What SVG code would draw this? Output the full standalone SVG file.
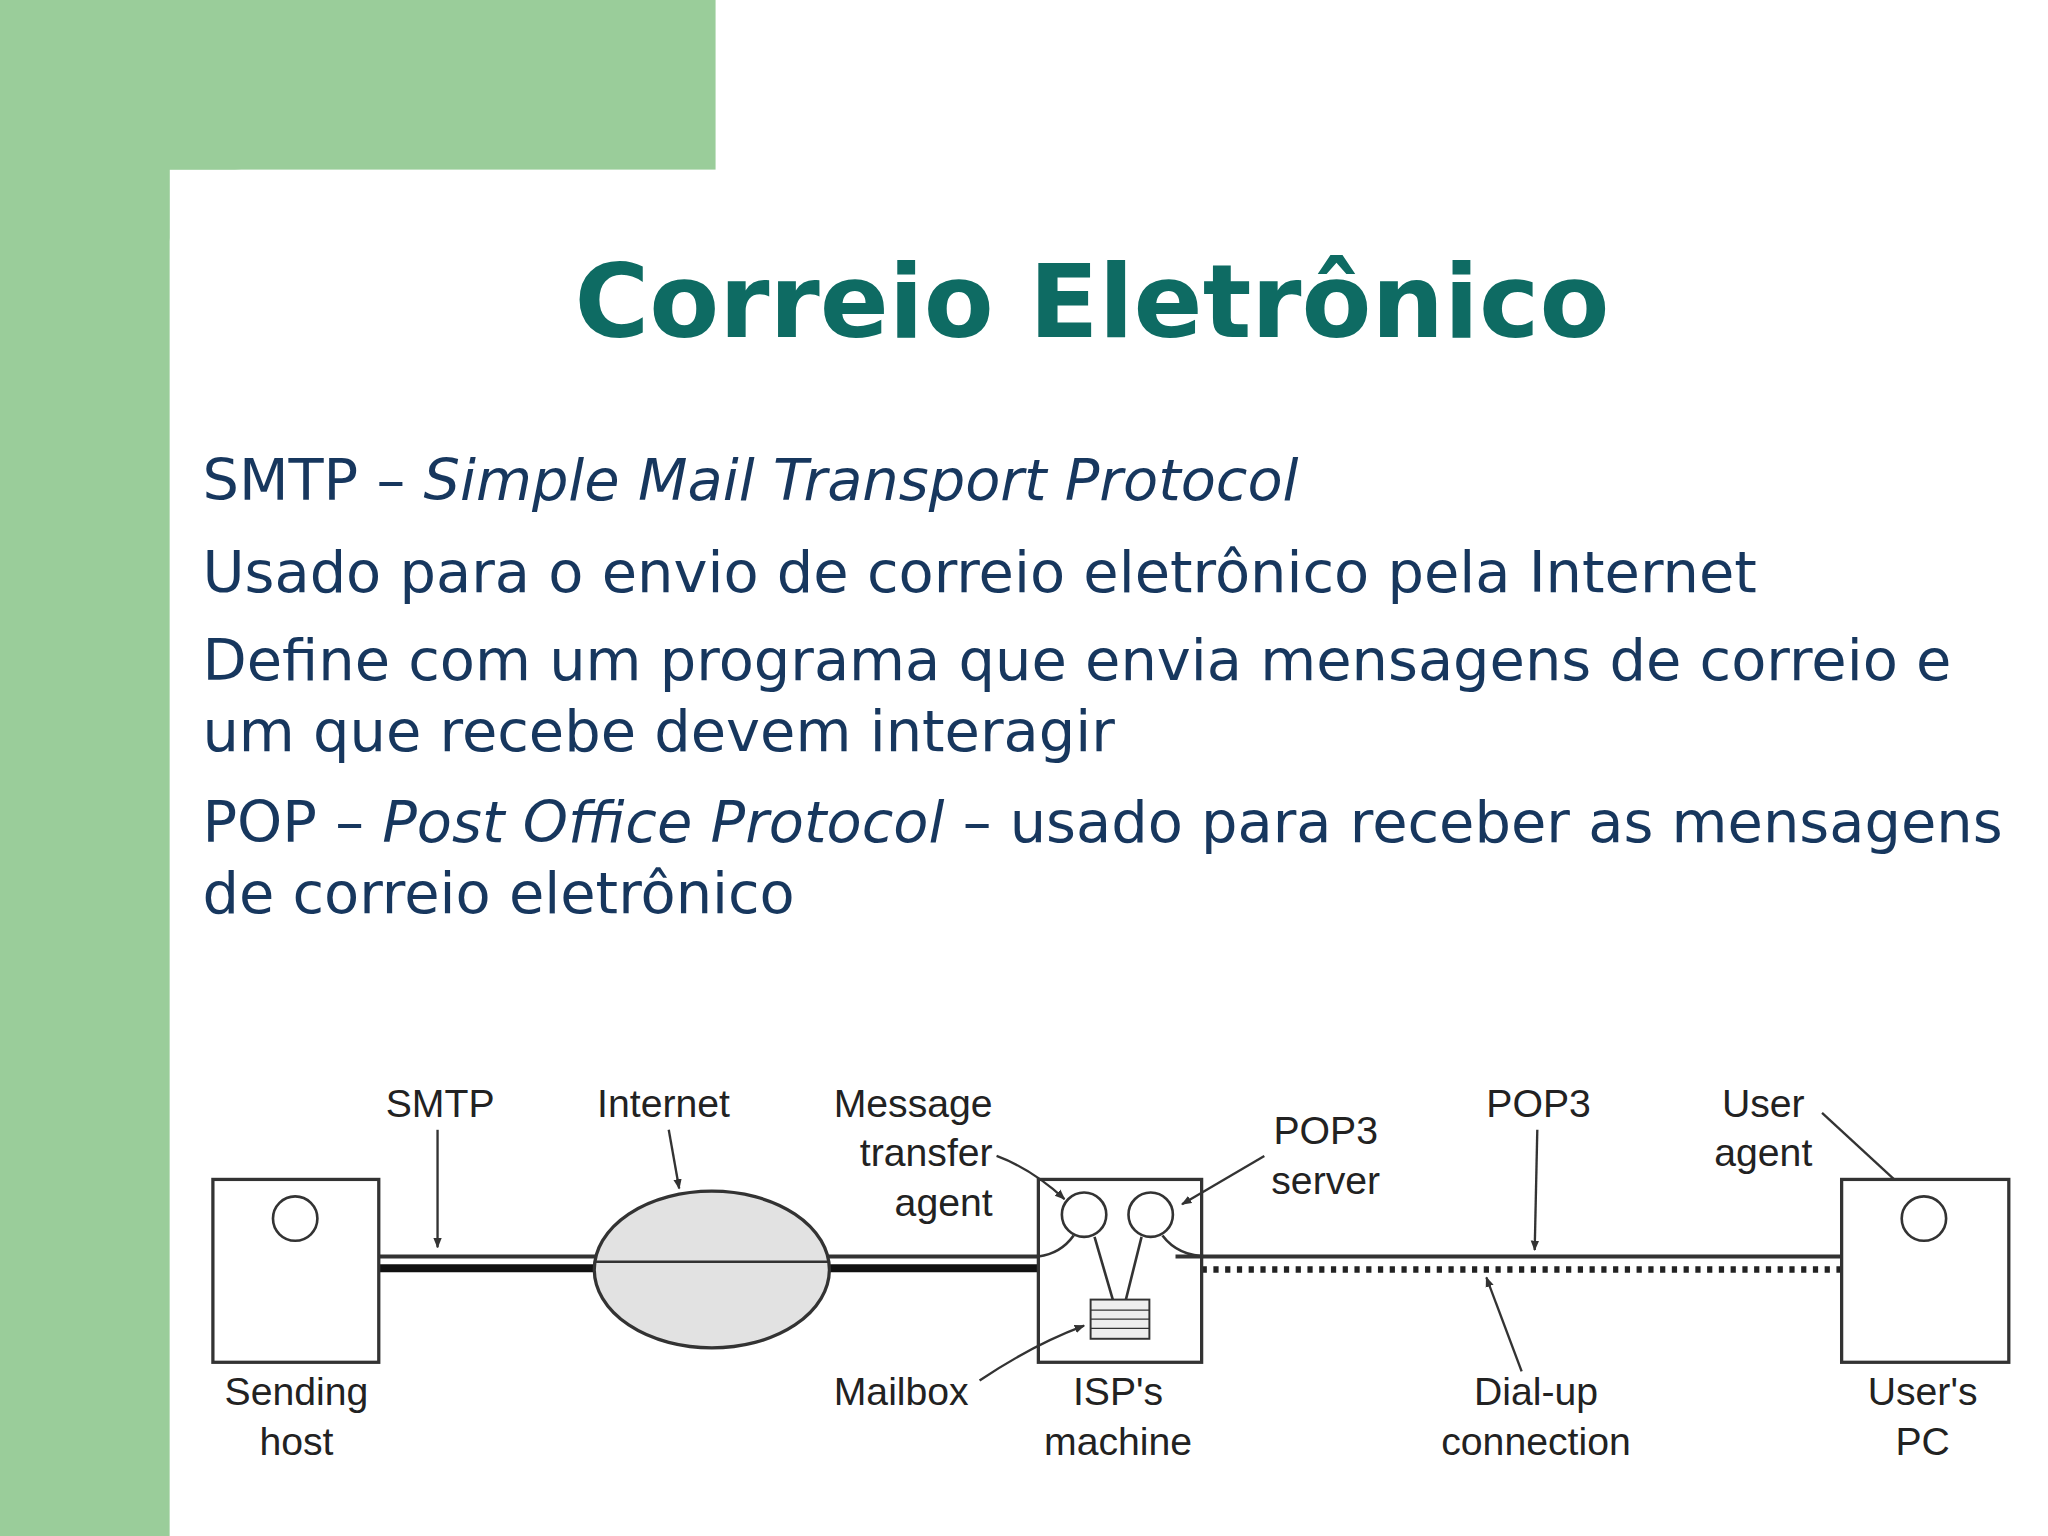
<svg xmlns="http://www.w3.org/2000/svg" width="2048" height="1536" viewBox="0 0 2048 1536">
<defs>
<style>
.body{font-family:"DejaVu Sans",sans-serif;font-size:44px;fill:#17375e}
.lbl{font-family:"Liberation Sans Narrow","Liberation Sans",sans-serif;font-size:30px;fill:#222;text-anchor:middle;font-stretch:condensed}
.box{fill:#fff;stroke:#333;stroke-width:2.5}
.ln{fill:none;stroke:#333;stroke-width:2}
.ar{fill:none;stroke:#333;stroke-width:1.8;marker-end:url(#ah)}
</style>
<marker id="ah" viewBox="0 0 10 10" refX="9" refY="5" markerWidth="8" markerHeight="8" orient="auto-start-reverse" markerUnits="userSpaceOnUse"><path d="M0,1 L10,5 L0,9 z" fill="#333"/></marker>
</defs>
<rect width="2048" height="1536" fill="#fff"/>
<g transform="scale(1.30612)">
<g id="background">
<rect x="0" y="0" width="548" height="130" fill="#9acd9a"/>
<rect x="0" y="0" width="130" height="1176" fill="#9acd9a"/>
<path d="M130,1176 L130,185 A55,55 0 0 1 185,130 L548,130 L548,0 L1568,0 L1568,1176 Z" fill="#fff"/>
</g>
<text x="836" y="258" text-anchor="middle" font-family="DejaVu Sans,sans-serif" font-weight="bold" font-size="78" fill="#0e6b63">Correio Eletrônico</text>
<g id="bullets">
<text class="body" x="155" y="383">SMTP – <tspan font-style="italic">Simple Mail Transport Protocol</tspan></text>
<text class="body" x="155" y="453">Usado para o envio de correio eletrônico pela Internet</text>
<text class="body" x="155" y="521">Define com um programa que envia mensagens de correio e</text>
<text class="body" x="155" y="575">um que recebe devem interagir</text>
<text class="body" x="155" y="645">POP – <tspan font-style="italic">Post Office Protocol</tspan> – usado para receber as mensagens</text>
<text class="body" x="155" y="699">de correio eletrônico</text>
</g>
<g id="connectors">
<line x1="290" y1="962" x2="795" y2="962" stroke="#333" stroke-width="3"/>
<line x1="290" y1="971" x2="795" y2="971" stroke="#111" stroke-width="6"/>
<line x1="900" y1="962" x2="1410" y2="962" stroke="#333" stroke-width="3"/>
<line x1="920" y1="972" x2="1410" y2="972" stroke="#222" stroke-width="5" stroke-dasharray="4,5"/>
<path class="ln" d="M240,946 Q262,962 292,962"/>
<path class="ln" d="M822,946 Q812,960 795,962"/>
<path class="ln" d="M890,946 Q902,962 925,962"/>
<path class="ln" d="M1462,948 Q1442,962 1410,962"/>
<line class="ln" x1="838" y1="947" x2="852" y2="995"/>
<line class="ln" x1="874" y1="947" x2="862" y2="995"/>
<path class="ar" d="M335,865 L335,955"/>
<path class="ar" d="M512,865 L520,910"/>
<path class="ar" d="M763,885 Q790,895 815,918"/>
<path class="ar" d="M968,885 L905,922"/>
<path class="ar" d="M1177,865 L1175,957"/>
<path class="ar" d="M1395,852 L1460,912"/>
<path class="ar" d="M1165,1050 L1138,978"/>
<path class="ar" d="M750,1057 Q790,1030 830,1015"/>
</g>
<g id="sending-host">
<rect class="box" x="163" y="903" width="127" height="140"/>
<circle cx="226" cy="933" r="17" fill="#fff" stroke="#333" stroke-width="2"/>
<text class="lbl" x="227" y="1076">Sending</text><text class="lbl" x="227" y="1114">host</text>
</g>
<g id="internet">
<ellipse cx="545" cy="972" rx="90" ry="60" fill="#e2e2e2" stroke="#333" stroke-width="2.5"/>
<line x1="455" y1="966" x2="635" y2="966" stroke="#333" stroke-width="2"/>
<text class="lbl" x="508" y="855">Internet</text>
</g>
<g id="isp">
<rect class="box" x="795" y="903" width="125" height="140" fill="none" style="fill:none"/>
<circle cx="830" cy="930" r="17" fill="#fff" stroke="#333" stroke-width="2"/>
<circle cx="881" cy="930" r="17" fill="#fff" stroke="#333" stroke-width="2"/>
<rect x="835" y="995" width="45" height="30" fill="#eee" stroke="#333" stroke-width="1.5"/>
<line x1="835" y1="1003" x2="880" y2="1003" stroke="#333"/><line x1="835" y1="1010" x2="880" y2="1010" stroke="#333"/><line x1="835" y1="1017" x2="880" y2="1017" stroke="#333"/>
<text class="lbl" x="856" y="1076">ISP's</text><text class="lbl" x="856" y="1114">machine</text>
</g>
<g id="user-pc">
<rect class="box" x="1410" y="903" width="128" height="140"/>
<circle cx="1473" cy="933" r="17" fill="#fff" stroke="#333" stroke-width="2"/>
<text class="lbl" x="1472" y="1076">User's</text><text class="lbl" x="1472" y="1114">PC</text>
</g>
<g id="labels">
<text class="lbl" x="337" y="855">SMTP</text>
<text class="lbl" x="760" y="855" text-anchor="end" style="text-anchor:end">Message</text>
<text class="lbl" x="760" y="893" style="text-anchor:end">transfer</text>
<text class="lbl" x="760" y="931" style="text-anchor:end">agent</text>
<text class="lbl" x="1015" y="876">POP3</text><text class="lbl" x="1015" y="914">server</text>
<text class="lbl" x="1178" y="855">POP3</text>
<text class="lbl" x="1350" y="855">User</text><text class="lbl" x="1350" y="893">agent</text>
<text class="lbl" x="690" y="1076">Mailbox</text>
<text class="lbl" x="1176" y="1076">Dial-up</text><text class="lbl" x="1176" y="1114">connection</text>
</g>
</g>
</svg>
